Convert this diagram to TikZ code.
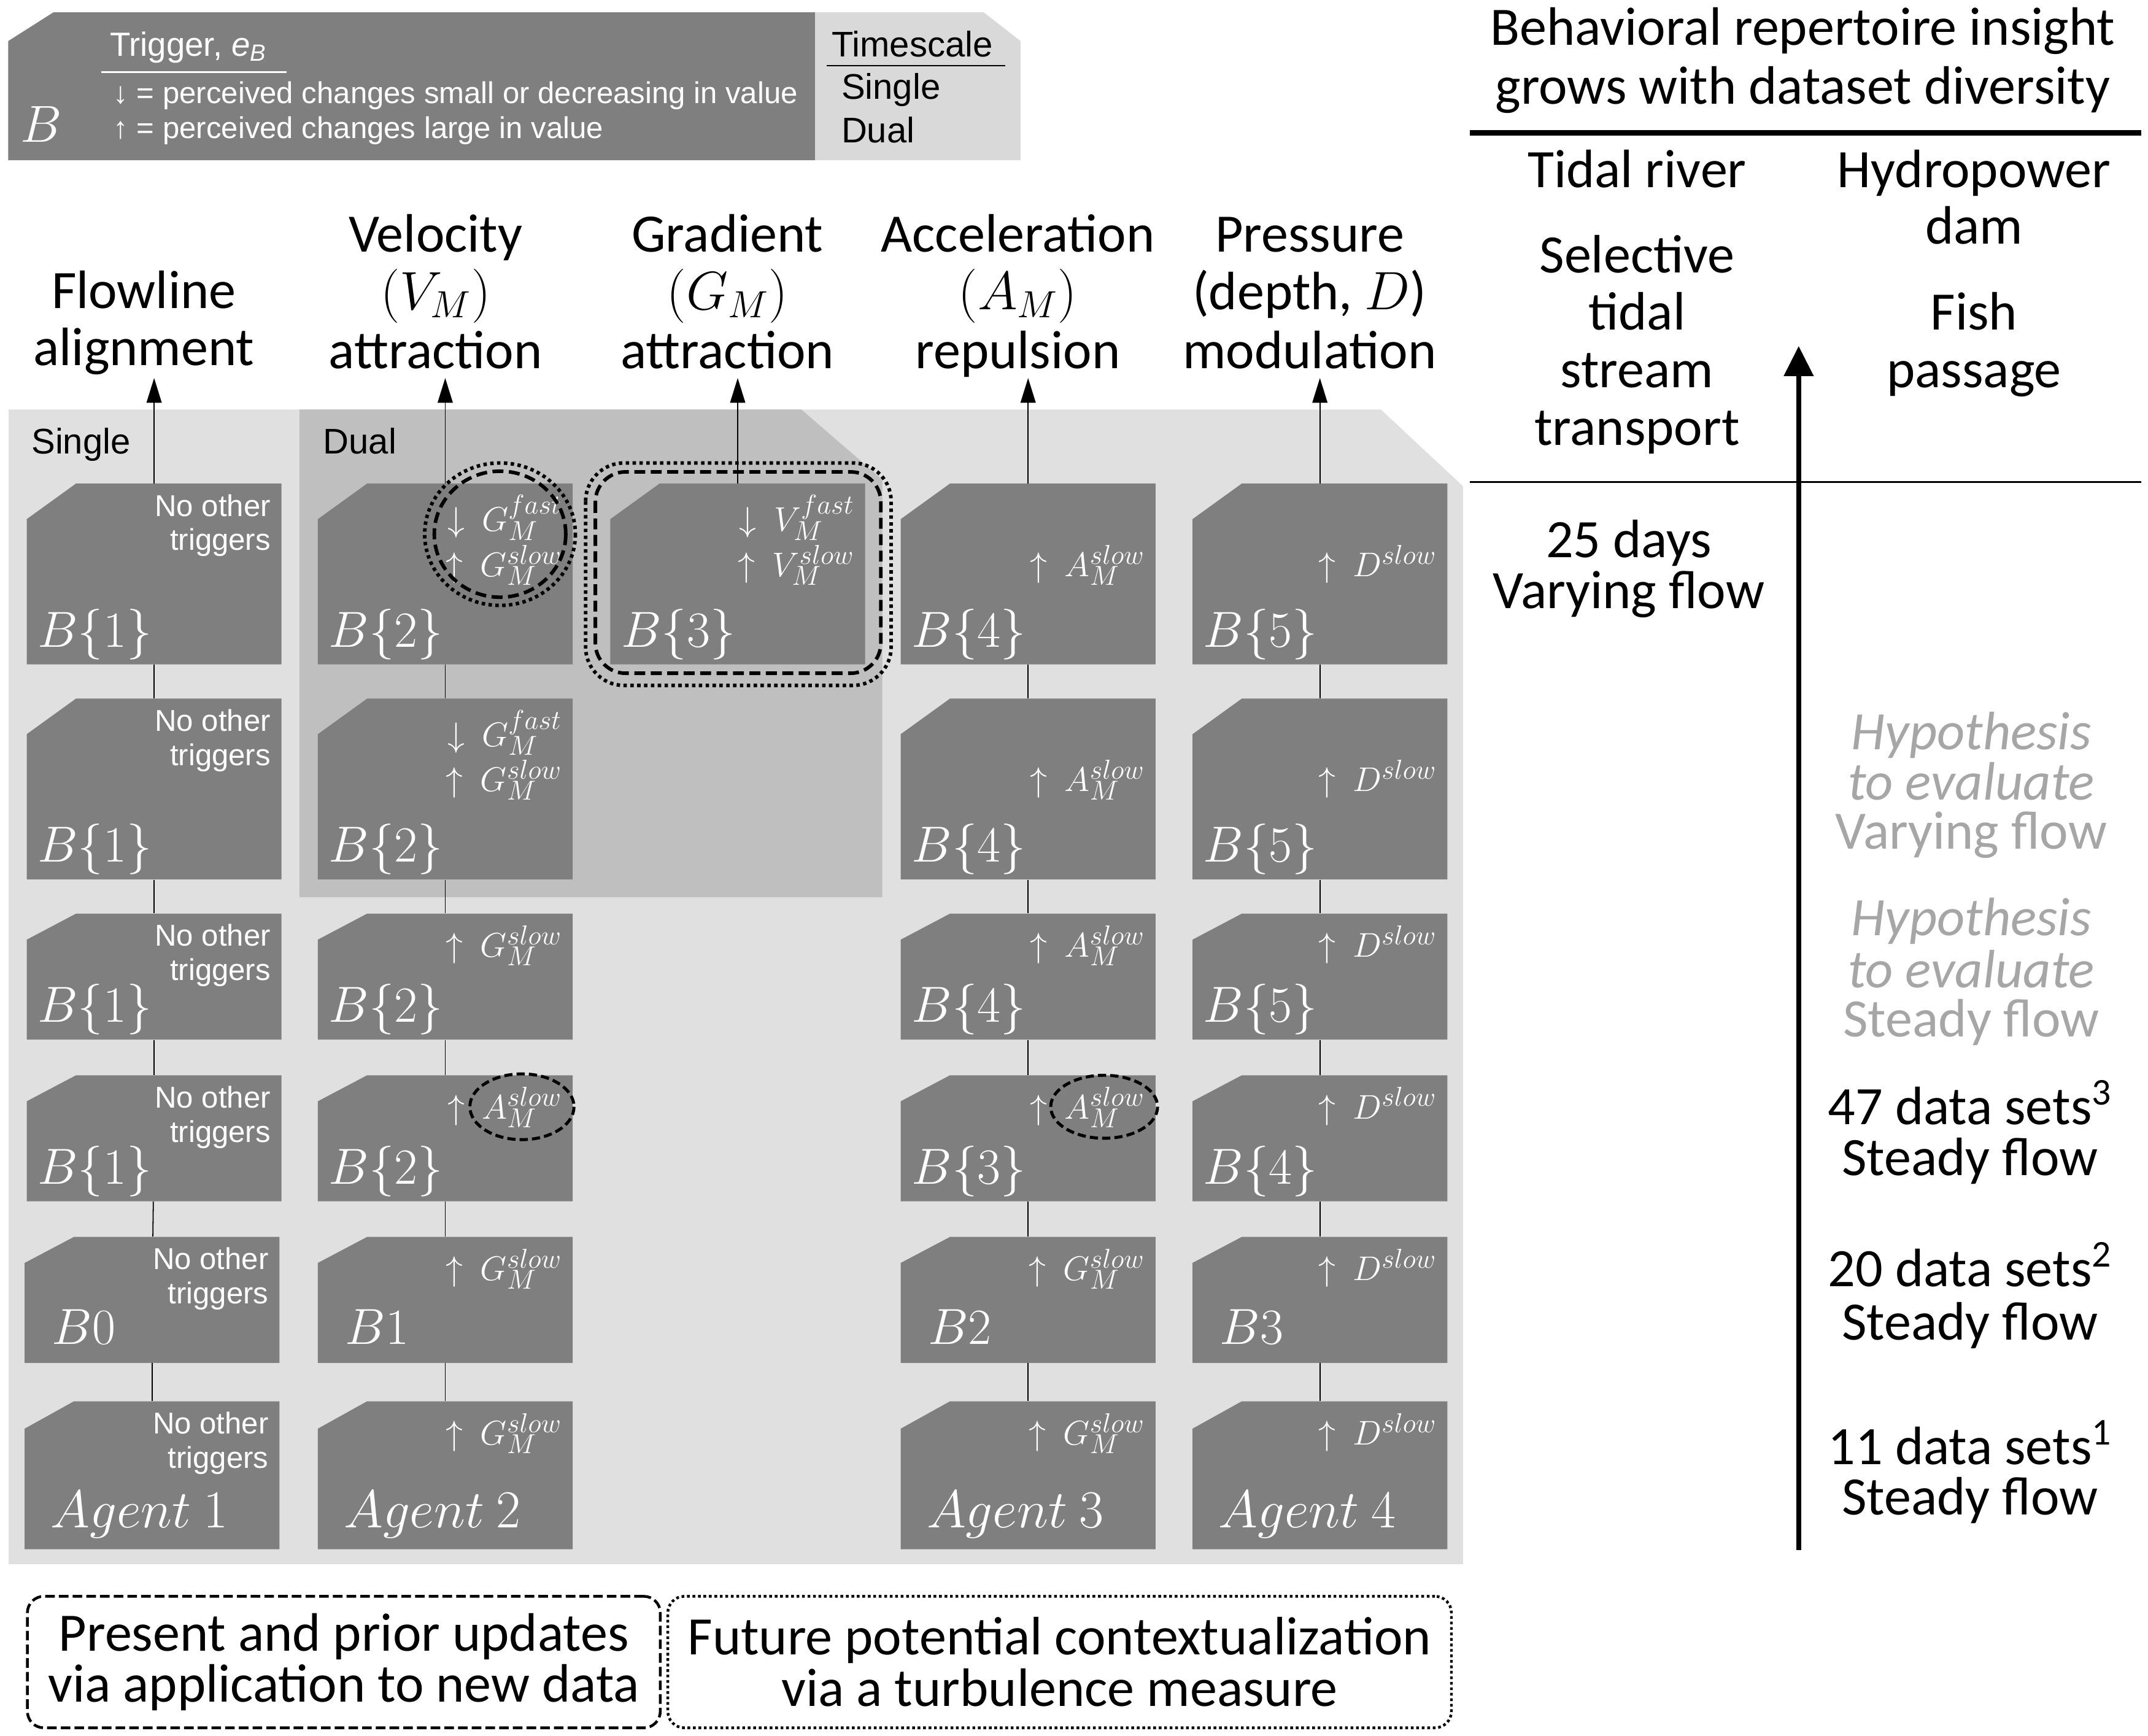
\RequirePackage{fix-cm}
\documentclass[tikz,border=0pt]{standalone}
\usepackage[no-math]{fontspec}
\setmainfont{Carlito}
\newfontfamily\arialf{Liberation Sans}
\usetikzlibrary{arrows.meta}
\DeclareMathSizes{25}{25}{20}{16}
\definecolor{boxgray}{RGB}{127,127,127}
\definecolor{lightbg}{RGB}{224,224,224}
\definecolor{dualbg}{RGB}{191,191,191}
\definecolor{legl}{RGB}{217,217,217}
\definecolor{hypo}{RGB}{166,166,166}
\newcommand\cbox[5]{%
  \fill[boxgray] ({#2-93},{#3+#4/2}) -- ({#2-93},{#3-#4/2+#5}) -- ({#2-57},{#3-#4/2}) -- ({#2+93},{#3-#4/2}) -- ({#2+93},{#3+#4/2}) -- cycle;
  \node[boxnode, minimum height=#4pt] (#1) at (#2,#3) {};}
\newcommand\blab[5]{\node[lab] (#1) at ([xshift=#3pt,yshift=#4pt]#2.south west) {#5};}
\newcommand\alab[5]{\node[lab, font=\fontsize{39}{42}\selectfont] (#1) at ([xshift=#3pt,yshift=#4pt]#2.south west) {#5};}
\newcommand\trig[4]{\node[trg] (#1) at ([xshift=-8pt,yshift=-#3pt]#2.north east) {#4};}
\newcommand\noot[2]{\node[nt] (#1x) at ([xshift=-8pt,yshift=-24pt]#2.north east) {No other};
  \node[nt] (#1y) at ([xshift=-8pt,yshift=-49pt]#2.north east) {triggers};}
\begin{document}
\begin{tikzpicture}[x=1pt,y=-1pt,
  big/.style={font=\fontsize{39.5}{42}\selectfont, inner sep=0pt, anchor=base},
  hypi/.style={big, text=hypo, font=\fontsize{39.5}{42}\selectfont\itshape},
  hypn/.style={big, text=hypo},
  lab/.style={font=\fontsize{37}{40}\selectfont, text=white, inner sep=0pt, anchor=base west},
  trg/.style={font=\fontsize{25}{30}\selectfont, text=white, inner sep=0pt, anchor=base east},
  nt/.style={font=\arialf\fontsize{22}{25}\selectfont, text=white, inner sep=0pt, anchor=base east},
  lgw/.style={font=\arialf\fontsize{22}{25}\selectfont, text=white, inner sep=0pt, anchor=base west},
  lgb/.style={font=\arialf\fontsize{26}{29}\selectfont, text=black, inner sep=0pt, anchor=base west},
  boxnode/.style={rectangle, minimum width=186pt, inner sep=0pt},
  conn/.style={line width=0.8pt},
  arr/.style={conn, -{Triangle[length=18pt,width=11pt]}},
  dsh/.style={line width=2.6pt, dash pattern=on 8pt off 4pt},
  dtt/.style={line width=2.6pt, dash pattern=on 2.5pt off 2.5pt},
  botbox/.style={draw, line width=2pt, rounded corners=12pt, align=center, inner sep=0pt, font=\fontsize{39.5}{37.5}\selectfont}
]
\useasboundingbox (0,0) rectangle (1568,1267);
\fill[white] (0,0) rectangle (1568,1267);

% ---------- legend
\fill[boxgray] (6,30) -- (39,9) -- (595,9) -- (595,117) -- (6,117) -- cycle;
\fill[legl] (595,9) -- (718,9) -- (745,30) -- (745,117) -- (595,117) -- cycle;
\node[lgw, font=\arialf\fontsize{24.5}{28}\selectfont] (trigger) at (80,41) {Trigger, \textit{e}\textsubscript{\textit{B}}};
\draw[white, line width=1.2pt] (74,52.5) -- (209,52.5);
\node[lgw] (ldown) at (82.6,75.5) {↓ = perceived changes small or decreasing in value};
\node[lgw] (lup) at (82.6,101) {↑ = perceived changes large in value};
\node[lab, font=\fontsize{38}{40}\selectfont] (bigB) at (15,103.5) {$B$};
\node[lgb] (tscale) at (607,41.5) {Timescale};
\draw[line width=1.2pt] (603.6,48) -- (734,48);
\node[lgb] (tsingle) at (614,72.5) {Single};
\node[lgb] (tdual) at (614,104) {Dual};

% ---------- regions
\fill[lightbg] (6.3,299) -- (1008,299) -- (1068,355) -- (1068,1142) -- (6.3,1142) -- cycle;
\fill[dualbg] (218.6,299) -- (585,299) -- (644,350) -- (644,655) -- (218.6,655) -- cycle;
\node[lgb] (rsingle) at (22.8,331.5) {Single};
\node[lgb] (rdual) at (235.8,331.5) {Dual};

% ---------- headers
\node[big] (h1a) at (105,225) {Flowline};
\node[big] (h1b) at (105,267) {alignment};
\node[big] (h2a) at (318,184) {Velocity};
\node[big] (h2b) at (318,226) {$(V_M)$};
\node[big] (h2c) at (318,269) {attraction};
\node[big] (h3a) at (531,184) {Gradient};
\node[big] (h3b) at (531,226) {$(G_M)$};
\node[big] (h3c) at (531,269) {attraction};
\node[big] (h4a) at (743,184) {Acceleration};
\node[big] (h4b) at (743,226) {$(A_M)$};
\node[big] (h4c) at (743,269) {repulsion};
\node[big] (h5a) at (956,184) {Pressure};
\node[big] (h5b) at (956,226) {(depth, $D$)};
\node[big] (h5c) at (956,269) {modulation};

% ---------- boxes
% col 1
\cbox{a1}{112.5}{419}{132}{26}
\cbox{a2}{112.5}{576}{132}{26}
\cbox{a3}{112.5}{713}{92}{19}
\cbox{a4}{112.5}{831}{92}{19}
\cbox{a5}{111}{949}{92}{19}
\cbox{a6}{111}{1077}{108}{20}
% col 2
\cbox{b1}{325}{419}{132}{26}
\cbox{b2}{325}{576}{132}{26}
\cbox{b3}{325}{713}{92}{19}
\cbox{b4}{325}{831}{92}{19}
\cbox{b5}{325}{949}{92}{19}
\cbox{b6}{325}{1077}{108}{20}
% col 3
\cbox{c1}{538.5}{419}{132}{26}
% col 4
\cbox{d1}{750.5}{419}{132}{26}
\cbox{d2}{750.5}{576}{132}{26}
\cbox{d3}{750.5}{713}{92}{19}
\cbox{d4}{750.5}{831}{92}{19}
\cbox{d5}{750.5}{949}{92}{19}
\cbox{d6}{750.5}{1077}{108}{20}
% col 5
\cbox{e1}{963.5}{419}{132}{26}
\cbox{e2}{963.5}{576}{132}{26}
\cbox{e3}{963.5}{713}{92}{19}
\cbox{e4}{963.5}{831}{92}{19}
\cbox{e5}{963.5}{949}{92}{19}
\cbox{e6}{963.5}{1077}{108}{20}

% ---------- connectors
\coordinate (ta) at (112.5,276);
\coordinate (tb) at (325,276);
\coordinate (tc) at (538.5,276);
\coordinate (td) at (750.5,276);
\coordinate (te) at (963.5,276);
\draw[arr] (a1) -- (ta);
\draw[arr] (b1) -- (tb);
\draw[arr] (c1) -- (tc);
\draw[arr] (d1) -- (td);
\draw[arr] (e1) -- (te);
\foreach \c in {a,b,d,e}{
  \draw[conn] (\c1) -- (\c2);
  \draw[conn] (\c2) -- (\c3);
  \draw[conn] (\c3) -- (\c4);
  \draw[conn] (\c4) -- (\c5);
  \draw[conn] (\c5) -- (\c6);
}

% ---------- box labels
\blab{la1}{a1}{8}{13}{$B\{1\}$}
\blab{la2}{a2}{8}{13}{$B\{1\}$}
\blab{la3}{a3}{8}{13}{$B\{1\}$}
\blab{la4}{a4}{8}{13}{$B\{1\}$}
\blab{la5}{a5}{20}{14}{$B0$}
\alab{la6}{a6}{19}{16}{$Agent\ 1$}
\blab{lb1}{b1}{8}{13}{$B\{2\}$}
\blab{lb2}{b2}{8}{13}{$B\{2\}$}
\blab{lb3}{b3}{8}{13}{$B\{2\}$}
\blab{lb4}{b4}{8}{13}{$B\{2\}$}
\blab{lb5}{b5}{20}{14}{$B1$}
\alab{lb6}{b6}{19}{16}{$Agent\ 2$}
\blab{lc1}{c1}{8}{13}{$B\{3\}$}
\blab{ld1}{d1}{8}{13}{$B\{4\}$}
\blab{ld2}{d2}{8}{13}{$B\{4\}$}
\blab{ld3}{d3}{8}{13}{$B\{4\}$}
\blab{ld4}{d4}{8}{13}{$B\{3\}$}
\blab{ld5}{d5}{20}{14}{$B2$}
\alab{ld6}{d6}{19}{16}{$Agent\ 3$}
\blab{le1}{e1}{8}{13}{$B\{5\}$}
\blab{le2}{e2}{8}{13}{$B\{5\}$}
\blab{le3}{e3}{8}{13}{$B\{5\}$}
\blab{le4}{e4}{8}{13}{$B\{4\}$}
\blab{le5}{e5}{20}{14}{$B3$}
\alab{le6}{e6}{19}{16}{$Agent\ 4$}

% ---------- triggers
\noot{na1}{a1}
\noot{na2}{a2}
\noot{na3}{a3}
\noot{na4}{a4}
\noot{na5}{a5}
\noot{na6}{a6}
\trig{tb1a}{b1}{35}{$\downarrow\ G_M^{fast}$}
\trig{tb1b}{b1}{68}{$\uparrow\ G_M^{slow}$}
\trig{tb2a}{b2}{35}{$\downarrow\ G_M^{fast}$}
\trig{tb2b}{b2}{68}{$\uparrow\ G_M^{slow}$}
\trig{tb3}{b3}{32}{$\uparrow\ G_M^{slow}$}
\trig{tb4}{b4}{32}{$\uparrow\ A_M^{slow}$}
\trig{tb5}{b5}{32}{$\uparrow\ G_M^{slow}$}
\trig{tb6}{b6}{32}{$\uparrow\ G_M^{slow}$}
\trig{tc1a}{c1}{35}{$\downarrow\ V_M^{fast}$}
\trig{tc1b}{c1}{68}{$\uparrow\ V_M^{slow}$}
\trig{td1}{d1}{68}{$\uparrow\ A_M^{slow}$}
\trig{td2}{d2}{68}{$\uparrow\ A_M^{slow}$}
\trig{td3}{d3}{32}{$\uparrow\ A_M^{slow}$}
\trig{td4}{d4}{32}{$\uparrow\ A_M^{slow}$}
\trig{td5}{d5}{32}{$\uparrow\ G_M^{slow}$}
\trig{td6}{d6}{32}{$\uparrow\ G_M^{slow}$}
\trig{te1}{e1}{68}{$\uparrow\ D^{slow}$}
\trig{te2}{e2}{68}{$\uparrow\ D^{slow}$}
\trig{te3}{e3}{32}{$\uparrow\ D^{slow}$}
\trig{te4}{e4}{32}{$\uparrow\ D^{slow}$}
\trig{te5}{e5}{32}{$\uparrow\ D^{slow}$}
\trig{te6}{e6}{32}{$\uparrow\ D^{slow}$}

% ---------- highlights
\draw[dtt] (365,390) ellipse [x radius=55, y radius=52];
\draw[dsh] (365,390) ellipse [x radius=48, y radius=46];
\draw[dtt, rounded corners=28pt] (427.5,338) rectangle (650.5,500.4);
\draw[dsh, rounded corners=22pt] (434.6,344.5) rectangle (643,491.5);
\draw[dsh, line width=2.2pt, dash pattern=on 6pt off 3pt] (381,808) ellipse [x radius=38, y radius=24];
\draw[dsh, line width=2.2pt, dash pattern=on 6pt off 3pt] (806,808) ellipse [x radius=39, y radius=23];

% ---------- bottom boxes
\node[botbox, dash pattern=on 7pt off 3pt, minimum width=462pt, minimum height=96pt] (pres) at (251,1213.4) {Present and prior updates\\via application to new data};
\node[botbox, dash pattern=on 2pt off 2pt, minimum width=572pt, minimum height=96pt] (fut) at (773.5,1213.4) {Future potential contextualization\\via a turbulence measure};

% ---------- right panel
\node[big] (ti1) at (1316,33) {Behavioral repertoire insight};
\node[big] (ti2) at (1316,76) {grows with dataset diversity};
\draw[line width=4pt] (1073,97) -- (1563,97);
\node[big] (r1a) at (1195,137) {Tidal river};
\node[big] (r1b) at (1195,199) {Selective};
\node[big] (r1c) at (1195,241) {tidal};
\node[big] (r1d) at (1195,283) {stream};
\node[big] (r1e) at (1195,325) {transport};
\node[big] (r2a) at (1441,137) {Hydropower};
\node[big] (r2b) at (1441,178) {dam};
\node[big] (r2c) at (1441,241) {Fish};
\node[big] (r2d) at (1441,283) {passage};
\draw[line width=1.2pt] (1073,352) -- (1563,352);
\coordinate (gb) at (1313,1131.5);
\coordinate (gt) at (1313,252.6);
\draw[line width=3.8pt, -{Triangle[length=22pt,width=21pt]}] (gb) -- (gt);
\node[big] (d25a) at (1189,407) {25 days};
\node[big] (d25b) at (1189,444) {Varying flow};
\node[hypi] (hy1a) at (1439,547) {Hypothesis};
\node[hypi] (hy1b) at (1439,584) {to evaluate};
\node[hypn] (hy1c) at (1439,620) {Varying flow};
\node[hypi] (hy2a) at (1439,683) {Hypothesis};
\node[hypi] (hy2b) at (1439,721) {to evaluate};
\node[hypn] (hy2c) at (1439,757) {Steady flow};
\node[big] (d47a) at (1438,821) {47 data sets\textsuperscript{3}};
\node[big] (d47b) at (1438,858) {Steady flow};
\node[big] (d20a) at (1438,939) {20 data sets\textsuperscript{2}};
\node[big] (d20b) at (1438,978) {Steady flow};
\node[big] (d11a) at (1438,1069) {11 data sets\textsuperscript{1}};
\node[big] (d11b) at (1438,1106) {Steady flow};
\end{tikzpicture}
\end{document}
